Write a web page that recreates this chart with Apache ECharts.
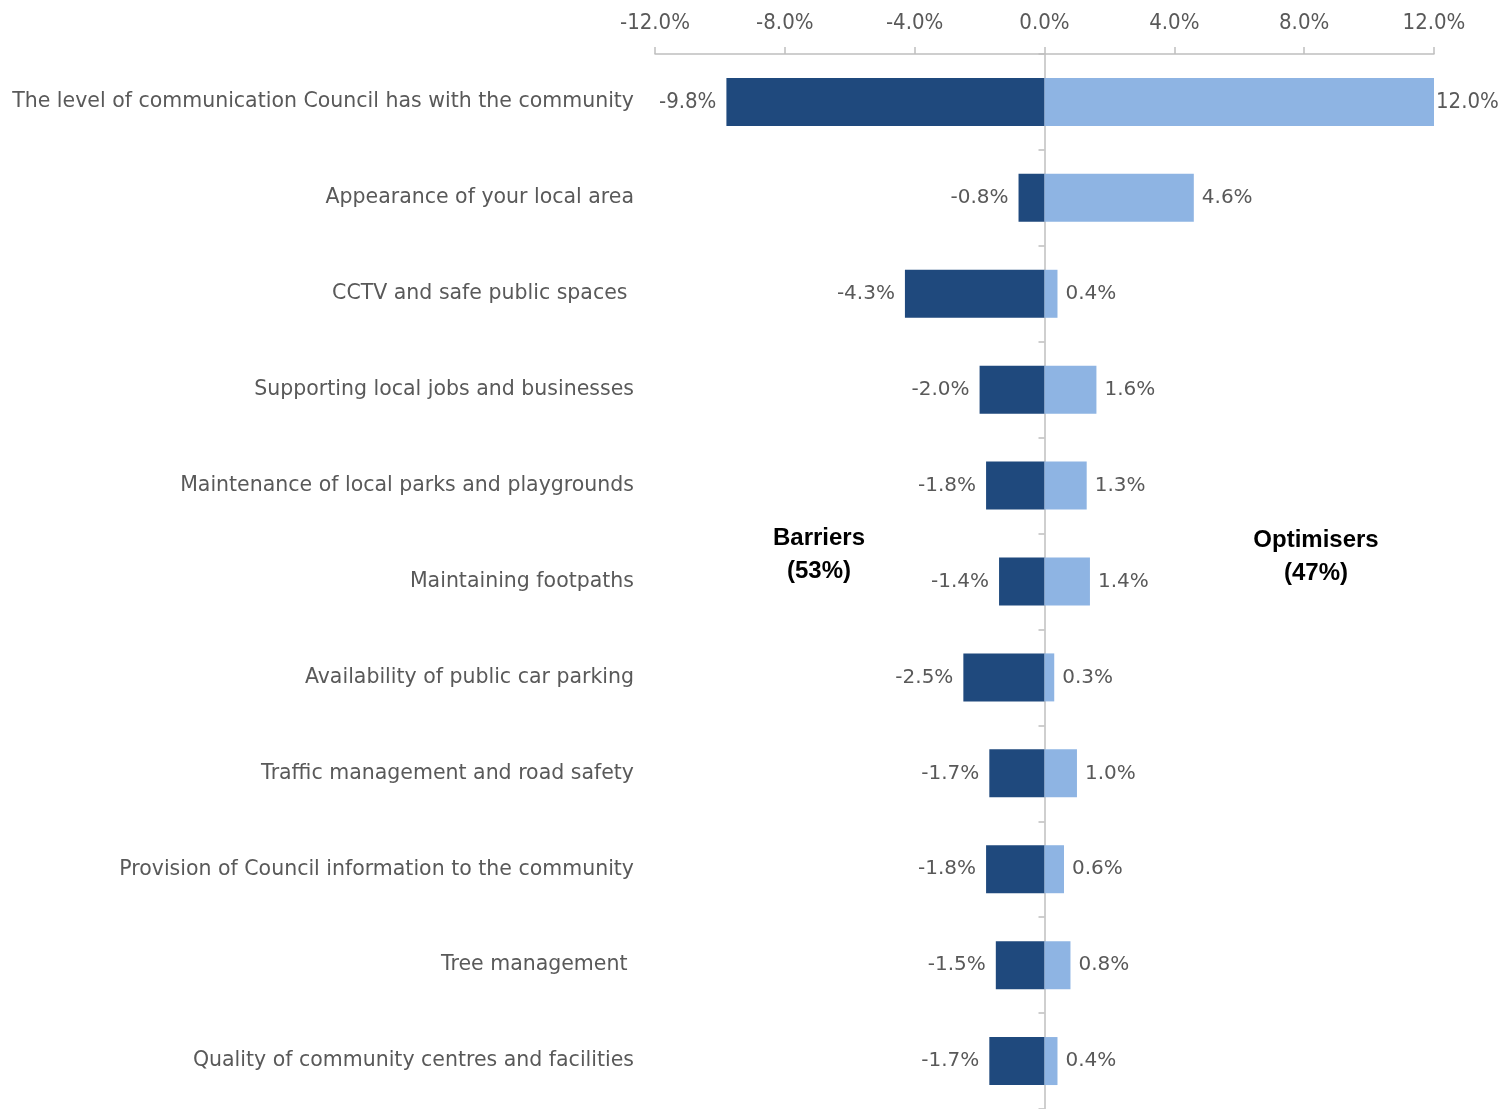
<!DOCTYPE html>
<html>
<head>
<meta charset="utf-8">
<script src="https://cdn.jsdelivr.net/npm/echarts@6/dist/echarts.min.js"></script>
<style>
html,body{margin:0;padding:0;background:#fff;}
#chart{width:1509px;height:1109px;}
</style>
</head>
<body>
<div id="chart"></div>
<script>
const categories = [
  "The level of communication Council has with the community",
  "Appearance of your local area",
  "CCTV and safe public spaces ",
  "Supporting local jobs and businesses",
  "Maintenance of local parks and playgrounds",
  "Maintaining footpaths",
  "Availability of public car parking",
  "Traffic management and road safety",
  "Provision of Council information to the community",
  "Tree management ",
  "Quality of community centres and facilities"
];
const barriers = [-9.8, -0.8, -4.3, -2.0, -1.8, -1.4, -2.5, -1.7, -1.8, -1.5, -1.7];
const optimisers = [12.0, 4.6, 0.4, 1.6, 1.3, 1.4, 0.3, 1.0, 0.6, 0.8, 0.4];
const axisMin = -12, axisMax = 12, axisInterval = 4;
const groupLabels = ["Barriers\n(53%)", "Optimisers\n(47%)"];

const chart = echarts.init(document.getElementById('chart'));
const catFont = 'DejaVu Sans';
const condFont = '"DejaVu Sans Condensed", "Liberation Sans Narrow", "Liberation Sans", sans-serif';
const pct = v => v.toFixed(1) + '%';

chart.setOption({
  animation: false,
  backgroundColor: '#ffffff',
  grid: { left: 655, right: 75, top: 54, height: 1059, containLabel: false },
  xAxis: {
    type: 'value', position: 'top',
    min: axisMin, max: axisMax, interval: axisInterval,
    axisLine: { show: true, lineStyle: { color: '#bfbfbf', width: 1.5 } },
    axisTick: { show: true, length: 7, lineStyle: { color: '#bfbfbf', width: 1.5 } },
    splitLine: { show: false },
    axisLabel: { formatter: v => pct(v), color: '#595959', fontSize: 22,
      fontFamily: condFont, margin: 20 }
  },
  yAxis: [
    {
      type: 'category', data: categories, inverse: true,
      axisLine: { show: false, onZero: false },
      axisTick: { show: false },
      axisLabel: { color: '#595959', fontSize: 20.5, fontFamily: catFont, margin: 21 }
    },
    {
      type: 'category', data: categories, inverse: true, position: 'left',
      axisLine: { show: true, onZero: true, lineStyle: { color: '#bfbfbf', width: 1.5 } },
      axisTick: { show: true, length: 6, lineStyle: { color: '#bfbfbf', width: 1.5 } },
      axisLabel: { show: false }
    }
  ],
  series: [
    {
      name: 'Barriers', type: 'bar', stack: 'total', barWidth: 48,
      data: barriers.map((v, i) => i === 0 ? { value: v, label: { fontFamily: condFont, fontSize: 22 } } : v),
      itemStyle: { color: '#1F497D' },
      label: { show: true, position: 'left', distance: 10, formatter: p => pct(p.value),
        color: '#595959', fontSize: 20, fontFamily: catFont }
    },
    {
      name: 'Optimisers', type: 'bar', stack: 'total', barWidth: 48,
      data: optimisers.map((v, i) => i === 0 ? { value: v, label: { distance: 2, fontFamily: condFont, fontSize: 22 } } : v),
      itemStyle: { color: '#8EB4E3' },
      label: { show: true, position: 'right', distance: 8, formatter: p => pct(p.value),
        color: '#595959', fontSize: 20, fontFamily: catFont }
    }
  ],
  graphic: [
    { type: 'text', x: 819, y: 522, style: { text: groupLabels[0], fill: '#000', fontSize: 24,
      fontWeight: 'bold', fontFamily: 'Liberation Sans', align: 'center', verticalAlign: 'top', lineHeight: 33 } },
    { type: 'text', x: 1316, y: 524, style: { text: groupLabels[1], fill: '#000', fontSize: 24,
      fontWeight: 'bold', fontFamily: 'Liberation Sans', align: 'center', verticalAlign: 'top', lineHeight: 33 } }
  ]
});
</script>
</body>
</html>
